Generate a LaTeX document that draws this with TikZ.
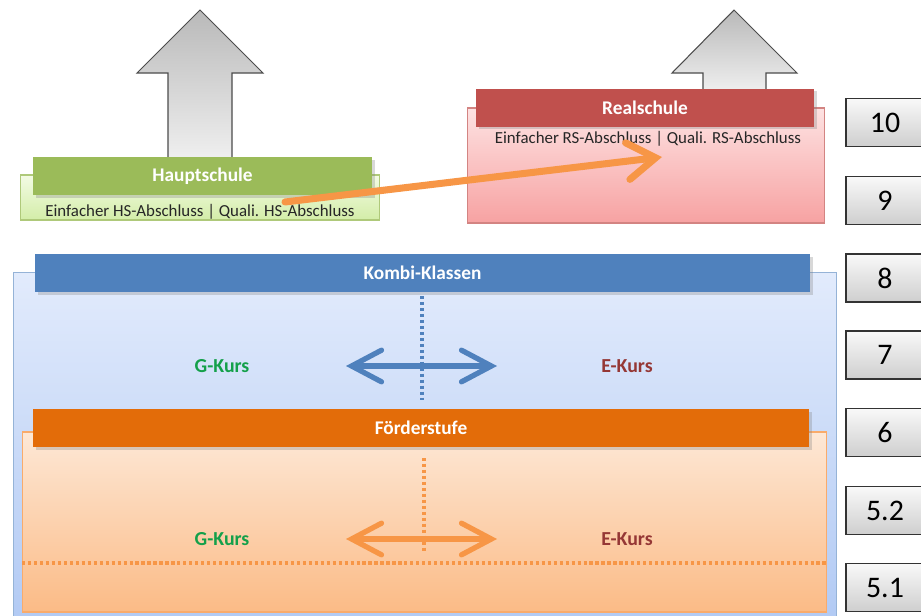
\documentclass[tikz,border=0pt]{standalone}
\usepackage{fontspec}
\setmainfont{Carlito}
\usetikzlibrary{arrows.meta, shadows}
\definecolor{hsgreen}{HTML}{9BBB59}
\definecolor{rsred}{HTML}{C0504D}
\definecolor{kblue}{HTML}{4F81BD}
\definecolor{forange}{HTML}{E36C09}
\definecolor{arrorange}{HTML}{F79646}
\definecolor{gkurs}{HTML}{14A04A}
\definecolor{ekurs}{HTML}{953735}
\definecolor{subgray}{HTML}{262626}
\definecolor{hstop}{HTML}{F3FBE4}
\definecolor{hsbottom}{HTML}{D3EDA8}
\definecolor{rstop}{HTML}{FDE2E2}
\definecolor{rsbottom}{HTML}{F7A2A2}
\definecolor{ktop}{HTML}{E2EBFC}
\definecolor{kbottom}{HTML}{AFC8F3}
\definecolor{ftop}{HTML}{FDE8D6}
\definecolor{fbottom}{HTML}{FBBB86}

\begin{document}
\begin{tikzpicture}[
  x=0.02cm, y=-0.02cm,
  bar/.style={minimum height=0.76cm, inner sep=0pt, text=white,
    font=\bfseries\fontsize{11}{13}\selectfont,
    drop shadow={opacity=0.3, shadow xshift=1.5pt, shadow yshift=-1.5pt}},
  panel/.style={draw, line width=0.6pt, inner sep=0pt},
  grade/.style={draw=black!80, line width=0.8pt, top color=gray!5, bottom color=gray!38,
    minimum width=1.56cm, minimum height=0.96cm, inner sep=0pt,
    font=\fontsize{17}{19}\selectfont},
  sub/.style={font=\fontsize{9.6}{11}\selectfont, text=subgray},
  kurs/.style={font=\bfseries\fontsize{11.3}{13}\selectfont},
  dotline/.style={line width=1.8pt, dash pattern=on 1.8pt off 1.6pt},
  twoway/.style={line width=3pt,
    {Straight Barb[length=17pt,width=18pt,line cap=round]}-{Straight Barb[length=17pt,width=18pt,line cap=round]}},
  uparrow/.style={draw=gray!60!black, line width=0.6pt, top color=gray!55, bottom color=gray!12}
]
  \clip (0,0) rectangle (921,616);
  \fill[white] (0,0) rectangle (921,616);

  % upward arrows
  \path[uparrow] (200,10) -- (263,73) -- (232,73) -- (232,160) -- (168,160) -- (168,73) -- (137,73) -- cycle;
  \path[uparrow] (734,10) -- (797,73) -- (766,73) -- (766,92) -- (703,92) -- (703,73) -- (672,73) -- cycle;

  % panels
  \node[panel, draw=kblue!60, top color=ktop, bottom color=kbottom,
    minimum width=16.48cm, minimum height=7.4cm] (kombibox) at (425,457) {};
  \node[panel, draw=arrorange!80, top color=ftop, bottom color=fbottom,
    minimum width=16.1cm, minimum height=3.6cm] (foerderbox) at (424.5,522) {};
  \node[panel, draw=hsgreen!80, top color=hstop, bottom color=hsbottom,
    minimum width=7.2cm, minimum height=0.9cm] (hsbox) at (200,197.5) {};
  \node[panel, draw=rsred!70, top color=rstop, bottom color=rsbottom,
    minimum width=7.16cm, minimum height=2.3cm] (rsbox) at (646,165.5) {};

  % bars
  \node[bar, fill=hsgreen, minimum width=6.78cm] (haupt) at (202.5,176) {Hauptschule};
  \node[bar, fill=rsred, minimum width=6.76cm] (real) at (645,107.5) {Realschule};
  \node[bar, fill=kblue, minimum width=15.5cm] (kombi) at (422.5,273) {Kombi-Klassen};
  \node[bar, fill=forange, minimum width=15.52cm] (foerder) at (421,428) {Förderstufe};

  \node[sub] (hstext) at (200,212) {Einfacher HS-Abschluss | Quali. HS-Abschluss};
  \node[sub] (rstext) at (648,139) {Einfacher RS-Abschluss | Quali. RS-Abschluss};

  % grades
  \node[grade] (g10) at (885,122.5) {10};
  \node[grade] (g9) at (885,200.5) {9};
  \node[grade] (g8) at (885,278) {8};
  \node[grade] (g7) at (885,355) {7};
  \node[grade] (g6) at (885,432.5) {6};
  \node[grade] (g52) at (885,510.5) {5.2};
  \node[grade] (g51) at (885,587.5) {5.1};

  % courses
  \node[kurs, text=gkurs] (kg) at (222,366) {G-Kurs};
  \node[kurs, text=ekurs] (ke) at (627,366) {E-Kurs};
  \node[kurs, text=gkurs] (fg) at (222,539) {G-Kurs};
  \node[kurs, text=ekurs] (fe) at (627,539) {E-Kurs};

  \coordinate (kup) at (422,296);
  \coordinate (kdown) at (422,400);
  \coordinate (kleft) at (346,366);
  \coordinate (kright) at (497,366);
  \coordinate (fup) at (424,458);
  \coordinate (fdown) at (424,553);
  \coordinate (fleft) at (346,539);
  \coordinate (fright) at (497,539);
  \coordinate (fwest) at (22,563);
  \coordinate (feast) at (827,563);

  \draw[dotline, kblue] (kup) -- (kdown);
  \draw[twoway, kblue] (kleft) -- (kright);
  \draw[dotline, arrorange] (fup) -- (fdown);
  \draw[dotline, arrorange] (fwest) -- (feast);
  \draw[twoway, arrorange] (fleft) -- (fright);

  % switch HS -> RS
  \coordinate (hsfrom) at (285,202);
  \coordinate (rsto) at (662,157);
  \draw[arrorange, line width=4pt, line cap=round,
    -{Straight Barb[length=16pt,width=21pt,line cap=round]}] (hsfrom) -- (rsto);
\end{tikzpicture}
\end{document}
